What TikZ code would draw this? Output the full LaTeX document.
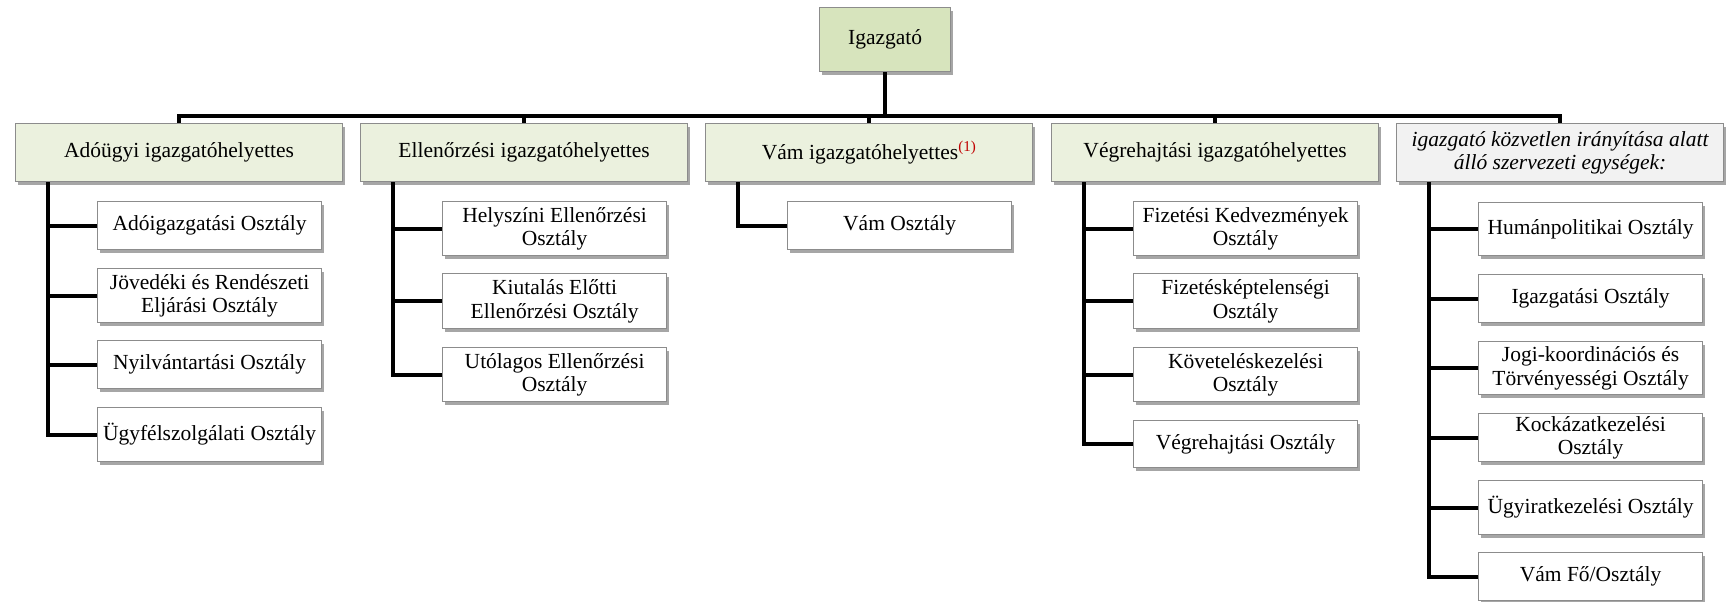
\documentclass[tikz,border=0pt]{standalone}
\usepackage{fontspec}
\setmainfont{Liberation Serif}
\usetikzlibrary{shadows,backgrounds}
\definecolor{topfill}{HTML}{D7E4BD}
\definecolor{depfill}{HTML}{EBF1DE}
\definecolor{dirfill}{HTML}{F2F2F2}
\definecolor{boxline}{HTML}{8C8C8C}
\definecolor{notered}{HTML}{C00000}
\tikzset{
  base/.style={draw=boxline, line width=1.2pt, inner sep=2pt, align=center,
    font=\fontsize{21.5pt}{23.5pt}\selectfont, anchor=north west,
    drop shadow={shadow xshift=2.5pt, shadow yshift=-3pt, opacity=0.35, fill=black}},
  topbox/.style={base, fill=topfill, minimum width=131pt, minimum height=64pt},
  depbox/.style={base, fill=depfill, minimum width=327pt, minimum height=58pt},
  dirbox/.style={base, fill=dirfill, minimum width=327pt, minimum height=58pt,
    font=\fontsize{21.5pt}{23.5pt}\selectfont\itshape},
  unitbox/.style={base, fill=white, minimum width=224pt},
  conn/.style={line width=4pt, black},
}
\begin{document}
\begin{tikzpicture}[x=1pt,y=-1pt]
\useasboundingbox (0,0) rectangle (1726,602);

% top
\node[topbox] (top) at (819,7) {Igazgató};

% deputy level
\node[depbox] (adoP) at (15,123) {Adóügyi igazgatóhelyettes};
\node[depbox] (ellP) at (360,123) {Ellenőrzési igazgatóhelyettes};
\node[depbox] (vamP) at (705,123) {Vám igazgatóhelyettes\textsuperscript{\textcolor{notered}{(1)}}};
\node[depbox] (vegP) at (1051,123) {Végrehajtási igazgatóhelyettes};
\node[dirbox] (dirP) at (1396,123) {igazgató közvetlen irányítása alatt\\álló szervezeti egységek:};

% Adóügyi units
\node[unitbox, minimum height=48pt] (adoA) at (97,201) {Adóigazgatási Osztály};
\node[unitbox, minimum height=54pt] (adoB) at (97,268) {Jövedéki és Rendészeti\\Eljárási Osztály};
\node[unitbox, minimum height=48pt] (adoC) at (97,340) {Nyilvántartási Osztály};
\node[unitbox, minimum height=54pt] (adoD) at (97,407) {Ügyfélszolgálati Osztály};

% Ellenőrzési units
\node[unitbox, minimum height=54pt] (ellA) at (442,201) {Helyszíni Ellenőrzési\\Osztály};
\node[unitbox, minimum height=55pt] (ellB) at (442,273) {Kiutalás Előtti\\Ellenőrzési Osztály};
\node[unitbox, minimum height=54pt] (ellC) at (442,347) {Utólagos Ellenőrzési\\Osztály};

% Vám units
\node[unitbox, minimum height=48pt] (vamA) at (787,201) {Vám Osztály};

% Végrehajtási units
\node[unitbox, minimum height=54pt] (vegA) at (1133,201) {Fizetési Kedvezmények\\Osztály};
\node[unitbox, minimum height=55pt] (vegB) at (1133,273) {Fizetésképtelenségi\\Osztály};
\node[unitbox, minimum height=54pt] (vegC) at (1133,347) {Követeléskezelési\\Osztály};
\node[unitbox, minimum height=47pt] (vegD) at (1133,420) {Végrehajtási Osztály};

% direct units
\node[unitbox, minimum height=53pt] (dirA) at (1478,202) {Humánpolitikai Osztály};
\node[unitbox, minimum height=48pt] (dirB) at (1478,274) {Igazgatási Osztály};
\node[unitbox, minimum height=53pt] (dirC) at (1478,341) {Jogi-koordinációs és\\Törvényességi Osztály};
\node[unitbox, minimum height=48pt] (dirD) at (1478,413) {Kockázatkezelési\\Osztály};
\node[unitbox, minimum height=54pt] (dirE) at (1478,480) {Ügyiratkezelési Osztály};
\node[unitbox, minimum height=48pt] (dirF) at (1478,552) {Vám Fő/Osztály};

\begin{scope}[on background layer]
  % bus
  \foreach \p in {adoP,ellP,vamP,vegP,dirP}
    \draw[conn] (top.south) -- ++(0,44) -| (\p.north);
  % branches
  \foreach \c in {adoA,adoB,adoC,adoD}
    \draw[conn] ([xshift=33pt]adoP.south west) |- (\c.west);
  \foreach \c in {ellA,ellB,ellC}
    \draw[conn] ([xshift=33pt]ellP.south west) |- (\c.west);
  \draw[conn] ([xshift=33pt]vamP.south west) |- (vamA.west);
  \foreach \c in {vegA,vegB,vegC,vegD}
    \draw[conn] ([xshift=33pt]vegP.south west) |- (\c.west);
  \foreach \c in {dirA,dirB,dirC,dirD,dirE,dirF}
    \draw[conn] ([xshift=33pt]dirP.south west) |- (\c.west);
\end{scope}
\end{tikzpicture}
\end{document}
